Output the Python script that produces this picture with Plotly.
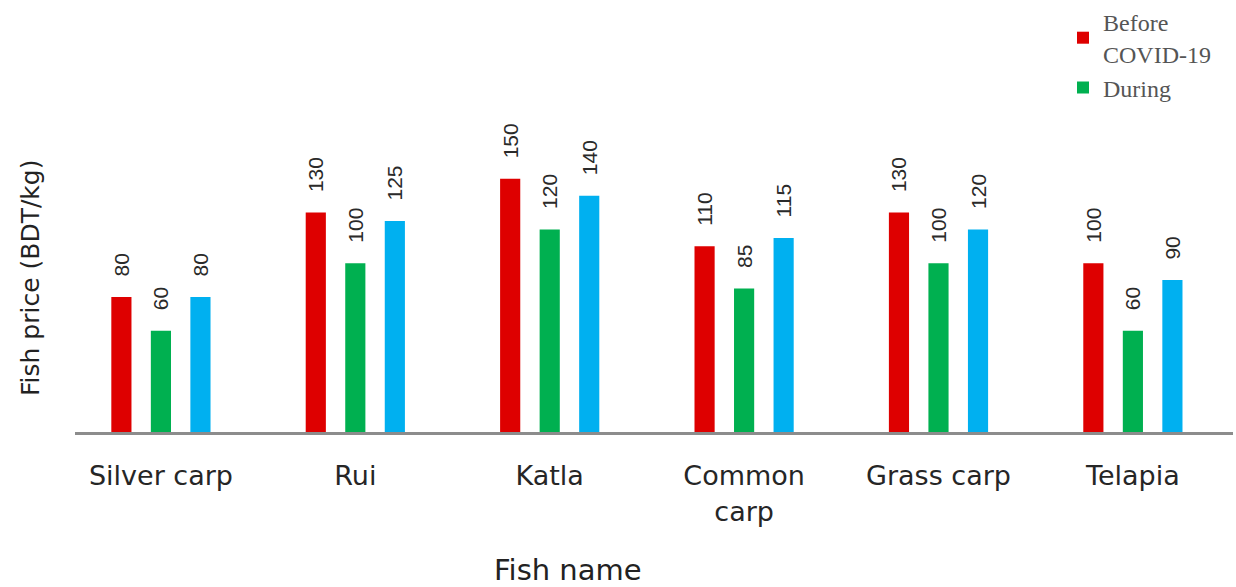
import plotly.graph_objects as go

fish = ["Silver carp", "Rui", "Katla", "Common<br>carp", "Grass carp", "Telapia"]
before = [80, 130, 150, 110, 130, 100]
during = [60, 100, 120, 85, 100, 60]
after = [80, 125, 140, 115, 120, 90]

series = [
    ("Before<br>COVID-19", before, "#DE0000", True),
    ("During", during, "#00B050", True),
    ("After", after, "#00B0F0", False),
]

SANS = "DejaVu Sans, Open Sans, Arial"
PAD = "\u00a0\u00a0\u00a0"  # keeps the value labels clear of the bar tops

# plot area in pixels
L, R, T, B = 75, 3, 100, 155
W, H = 1236, 587
PW, PH = W - L - R, H - T - B

fig = go.Figure()
for name, vals, color, show in series:
    fig.add_trace(go.Bar(
        x=fish, y=vals, name=name, marker=dict(color=color, line=dict(width=0)),
        text=[PAD + str(v) for v in vals], textposition="outside", textangle=-90,
        constraintext="none",
        textfont=dict(family="Liberation Sans, Arial", size=21, color="#2A2A2A"),
        cliponaxis=False, showlegend=show,
    ))

fig.update_layout(
    width=W, height=H,
    margin=dict(l=L, r=R, t=T, b=B, autoexpand=False),
    paper_bgcolor="white", plot_bgcolor="white",
    barmode="group", bargap=0.39, bargroupgap=0.49,
    font=dict(family=SANS, color="#222222"),
    legend=dict(
        x=1063 / W, y=1.013, xref="container", yref="container",
        xanchor="left", yanchor="top",
        font=dict(family="Liberation Serif, Times New Roman", size=24, color="#555555"),
        itemwidth=30, tracegroupgap=0, bgcolor="rgba(0,0,0,0)",
    ),
    xaxis=dict(
        range=[-0.442, 5.515], showline=True, linecolor="#8C8C8C", linewidth=3,
        ticks="", showgrid=False, ticklabelstandoff=18,
        tickfont=dict(family=SANS, size=27, color="#262626"),
    ),
    yaxis=dict(
        range=[0, 196.7], showline=False, showticklabels=False, ticks="",
        showgrid=False, zeroline=False,
    ),
    annotations=[
        dict(text="Fish name", xref="paper", yref="paper",
             x=(568 - L) / PW, y=(H - B - 570) / PH, showarrow=False,
             xanchor="center", yanchor="middle",
             font=dict(family=SANS, size=29, color="#222222")),
        dict(text="Fish price (BDT/kg)", xref="paper", yref="paper",
             x=(30 - L) / PW, y=(H - B - 278) / PH, showarrow=False, textangle=-90,
             xanchor="center", yanchor="middle",
             font=dict(family=SANS, size=25, color="#222222")),
    ],
)

fig.write_html("out.html")
